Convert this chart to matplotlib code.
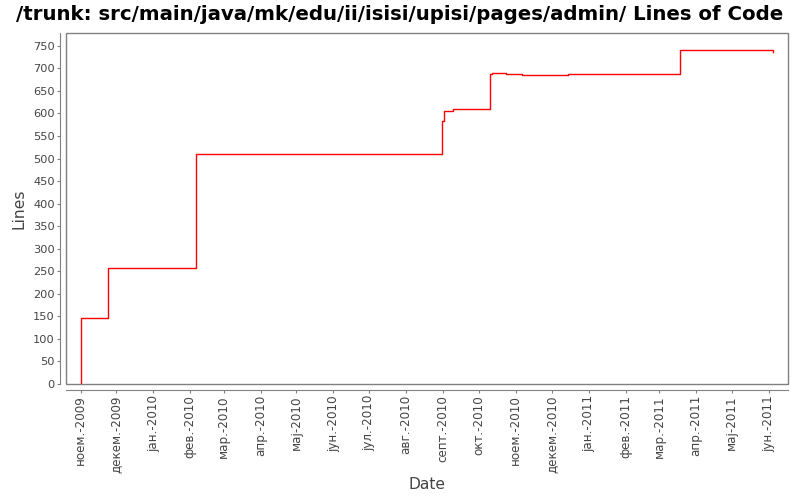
import numpy as np
import pandas as pd
import matplotlib
matplotlib.use("Agg")
import matplotlib.pyplot as plt
from matplotlib.patches import Rectangle

# data (step series, value holds until next date)
dates = ["2009-11-01 00:00", "2009-11-01 06:00", "2009-11-24 00:00", "2010-02-06 00:00",
         "2010-08-31 00:00", "2010-09-02 00:00", "2010-09-09 00:00", "2010-10-10 00:00",
         "2010-10-12 00:00", "2010-10-24 00:00", "2010-11-06 00:00", "2010-12-15 00:00",
         "2011-03-19 00:00", "2011-06-04 00:00", "2011-06-05 00:00"]
lines = [0, 146, 257, 510, 583, 605, 611, 687, 689, 687, 685, 687, 740, 740, 737]

tick_labels = ["ноем.-2009", "декем.-2009", "јан.-2010", "фев.-2010",
               "мар.-2010", "апр.-2010", "мај-2010", "јун.-2010",
               "јул.-2010", "авг.-2010", "септ.-2010", "окт.-2010",
               "ноем.-2010", "декем.-2010", "јан.-2011", "фев.-2011",
               "мар.-2011", "апр.-2011", "мај-2011", "јун.-2011"]
y_ticks = list(range(0, 751, 50))

title = "/trunk: src/main/java/mk/edu/ii/isisi/upisi/pages/admin/ Lines of Code"

plt.rcParams['font.family'] = ['DejaVu Sans']
grey = "#808080"
txt = "#444444"

x = pd.to_datetime(dates, format="%Y-%m-%d %H:%M")
fig = plt.figure(figsize=(8, 5), dpi=100)
ax = fig.add_axes([66/800, 1-384/500, (788-66)/800, (384-33)/500])

ax.step(x, lines, where="post", color="red", lw=1.0)

# axis range with small margins like the original
span = x[-1] - x[0]
ax.set_xlim(x[0] - span*0.021, x[-1] + span*0.021)
ax.set_ylim(0, max(lines)*1.052)

# outline of plot + offset axis lines
for s in ["top", "right"]:
    ax.spines[s].set_visible(False)
for s in ["left", "bottom"]:
    ax.spines[s].set_position(("outward", 4))
    ax.spines[s].set_color(grey)
ax.add_patch(Rectangle((0, 0), 1, 1, transform=ax.transAxes, fill=False,
                       edgecolor=grey, lw=1.0, clip_on=False))
ax.tick_params(colors=grey, labelcolor=txt, length=2, width=0.8, pad=2)
ax.tick_params(axis="y", labelsize=8.2)
ax.tick_params(axis="x", labelrotation=90, labelsize=8.6)

ticks = pd.date_range("2009-11-01", periods=len(tick_labels), freq="MS")
ax.set_xticks(ticks)
ax.set_xticklabels(tick_labels)
ax.set_yticks(y_ticks)
ax.set_yticklabels([str(v) for v in y_ticks])

ax.set_xlabel("Date", fontsize=11.2, color=txt, labelpad=3)
ax.set_ylabel("Lines", fontsize=11.2, color=txt, labelpad=5)
fig.suptitle(title, fontsize=14.2, fontweight="bold", x=0.5, y=0.99, va="top")

fig.savefig("out.png", dpi=100)
